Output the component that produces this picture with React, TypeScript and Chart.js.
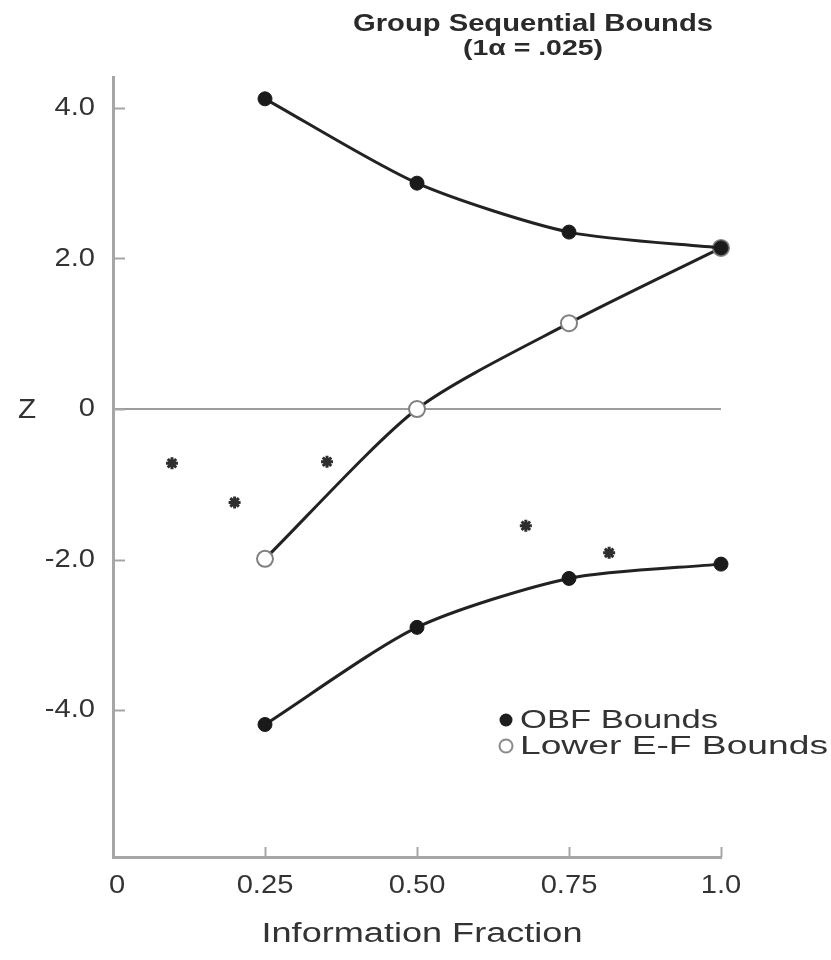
import React, { useEffect, useRef } from 'react';
import { Chart, registerables } from 'chart.js';

Chart.register(...registerables);

// ---- data ----
const fractions = [0.25, 0.5, 0.75, 1.0];
const obfUpper = [4.12, 3.0, 2.35, 2.14];
const efLower = [-1.99, 0.0, 1.14, 2.14];
const obfLower = [-4.19, -2.9, -2.25, -2.06];
const starX = [0.097, 0.2, 0.352, 0.679, 0.816];
const starY = [-0.72, -1.24, -0.7, -1.55, -1.91];
const xTickValues = [0, 0.25, 0.5, 0.75, 1.0];
const xTickLabels = ['0', '0.25', '0.50', '0.75', '1.0'];
const yTickValues = [4, 2, 0, -2, -4];
const yTickLabels = ['4.0', '2.0', '0', '-2.0', '-4.0'];
const titleLines = ['Group Sequential Bounds', '(1\u03b1 = .025)'];
const xTitle = 'Information Fraction';
const yTitle = 'Z';
const legendLabels = ['OBF Bounds', 'Lower E-F Bounds'];

const FONT = "'Liberation Sans', Arial, sans-serif";
const TEXT = '#333333';
const AXIS = '#a6a6a6';

function drawText(ctx: CanvasRenderingContext2D, text: string, x: number, y: number, font: string, align: CanvasTextAlign, sx: number, color: string, width?: number) {
  ctx.save();
  ctx.font = font;
  ctx.fillStyle = color;
  ctx.textBaseline = 'middle';
  ctx.textAlign = align;
  let s = sx;
  if (width) {
    const w = ctx.measureText(text).width;
    s = width / w;
  }
  ctx.translate(x, y);
  ctx.scale(s, 1);
  ctx.fillText(text, 0, 0);
  ctx.restore();
}

const decorPlugin = {
  id: 'decor',
  afterDraw(chart: any) {
    const ctx: CanvasRenderingContext2D = chart.ctx;
    const xs = chart.scales.x;
    const ys = chart.scales.y;
    const area = chart.chartArea;

    // inner tick marks
    ctx.save();
    ctx.strokeStyle = AXIS;
    ctx.lineWidth = 2;
    yTickValues.forEach((v) => {
      const py = Math.round(ys.getPixelForValue(v)) + 0.5;
      ctx.beginPath();
      ctx.moveTo(area.left, py);
      ctx.lineTo(area.left + 12, py);
      ctx.stroke();
    });
    xTickValues.forEach((v) => {
      if (v === 0) return;
      const px = Math.round(xs.getPixelForValue(v)) + 0.5;
      ctx.beginPath();
      ctx.moveTo(px, area.bottom);
      ctx.lineTo(px, area.bottom - 10);
      ctx.stroke();
    });
    ctx.restore();

    // tick labels
    yTickValues.forEach((v, i) => {
      drawText(ctx, yTickLabels[i], 95, ys.getPixelForValue(v), `26px ${FONT}`, 'right', 1.12, TEXT);
    });
    xTickValues.forEach((v, i) => {
      drawText(ctx, xTickLabels[i], xs.getPixelForValue(v) + (i === 0 ? 4 : 0), 886, `26px ${FONT}`, 'center', 1.12, TEXT);
    });

    // axis titles
    drawText(ctx, xTitle, 422, 935, `27px ${FONT}`, 'center', 1, TEXT, 321);
    drawText(ctx, yTitle, 27, 411, `27px ${FONT}`, 'center', 1.1, TEXT);

    // chart title
    drawText(ctx, titleLines[0], 533, 24, `bold 24px ${FONT}`, 'center', 1, '#2a2a2a', 360);
    drawText(ctx, titleLines[1], 533, 49, `bold 22px ${FONT}`, 'center', 1, '#2a2a2a', 140);

    // legend
    ctx.save();
    ctx.fillStyle = '#1e1e1e';
    ctx.beginPath();
    ctx.arc(506, 720, 6.5, 0, Math.PI * 2);
    ctx.fill();
    ctx.fillStyle = '#fff';
    ctx.strokeStyle = '#8a8a8a';
    ctx.lineWidth = 2;
    ctx.beginPath();
    ctx.arc(506, 746, 6.5, 0, Math.PI * 2);
    ctx.fill();
    ctx.stroke();
    ctx.restore();
    drawText(ctx, legendLabels[0], 520, 721, `26px ${FONT}`, 'left', 1, TEXT, 198);
    drawText(ctx, legendLabels[1], 520, 747, `26px ${FONT}`, 'left', 1, TEXT, 308);
  },
};

export default function App() {
  const ref = useRef<HTMLCanvasElement | null>(null);

  useEffect(() => {
    if (!ref.current) return;
    const pts = (ys: number[]) => fractions.map((x, i) => ({ x, y: ys[i] }));
    const lineStyle = {
      borderColor: '#222',
      borderWidth: 3,
      tension: 0.25,
      showLine: true,
      fill: false,
      clip: false as const,
    };
    const chart = new Chart(ref.current, {
      type: 'scatter',
      data: {
        datasets: [
          {
            label: 'OBF upper',
            data: pts(obfUpper),
            ...lineStyle,
            pointRadius: 7,
            pointBackgroundColor: '#1a1a1a',
            pointBorderColor: '#1a1a1a',
            pointBorderWidth: 1,
          },
          {
            label: 'Lower E-F',
            data: pts(efLower),
            ...lineStyle,
            pointRadius: 8,
            pointBackgroundColor: '#ffffff',
            pointBorderColor: '#808080',
            pointBorderWidth: 2,
          },
          {
            label: 'OBF lower',
            data: pts(obfLower),
            ...lineStyle,
            pointRadius: 7,
            pointBackgroundColor: '#1a1a1a',
            pointBorderColor: '#1a1a1a',
            pointBorderWidth: 1,
          },
          {
            label: 'Observed',
            data: starX.map((x, i) => ({ x, y: starY[i] })),
            showLine: false,
            clip: false as const,
            pointStyle: 'star',
            pointRadius: 6,
            pointBorderWidth: 3,
            pointBorderColor: '#2e2e2e',
            pointBackgroundColor: '#2e2e2e',
          },
        ],
      },
      options: {
        responsive: false,
        animation: false,
        events: [],
        layout: { padding: { top: 77, right: 110, left: 0, bottom: 0 } },
        plugins: {
          legend: { display: false },
          tooltip: { enabled: false },
          title: { display: false },
        },
        scales: {
          x: {
            type: 'linear',
            min: 0,
            max: 1,
            afterBuildTicks: (s: any) => {
              s.ticks = xTickValues.map((v) => ({ value: v }));
            },
            afterFit: (s: any) => {
              s.height = 103;
            },
            ticks: { display: false },
            grid: { display: false, drawTicks: false },
            border: { color: AXIS, width: 3 },
          },
          y: {
            type: 'linear',
            min: -5.95,
            max: 4.41,
            afterBuildTicks: (s: any) => {
              s.ticks = yTickValues.map((v) => ({ value: v }));
            },
            afterFit: (s: any) => {
              s.width = 113;
            },
            ticks: { display: false },
            grid: {
              drawTicks: false,
              lineWidth: 2,
              color: (c: any) => (c.tick && c.tick.value === 0 ? '#9c9c9c' : 'rgba(0,0,0,0)'),
            },
            border: { color: AXIS, width: 3 },
          },
        },
      },
      plugins: [decorPlugin],
    });
    return () => chart.destroy();
  }, []);

  return (
    <div style={{ position: 'absolute', left: 0, top: 0, width: 831, height: 960, background: '#fff' }}>
      <canvas ref={ref} width={831} height={960} style={{ display: 'block' }} />
    </div>
  );
}
